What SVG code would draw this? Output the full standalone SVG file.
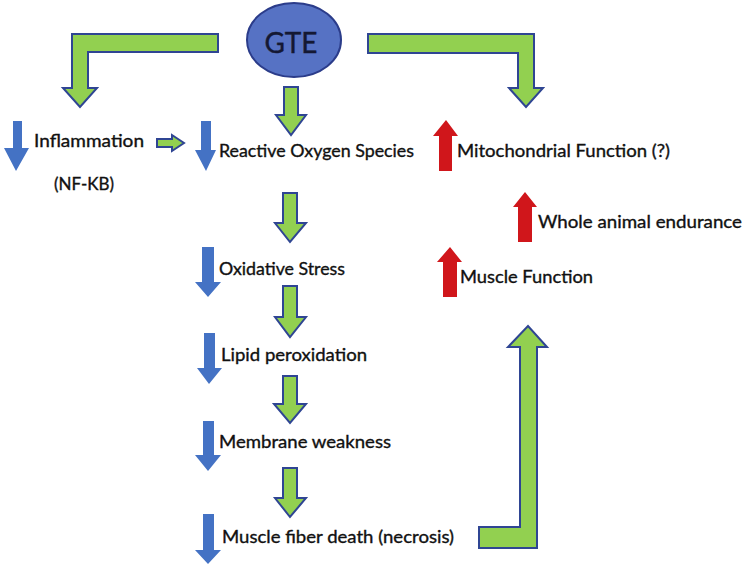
<svg xmlns="http://www.w3.org/2000/svg" width="750" height="570" viewBox="0 0 750 570">
<style>
.g{fill:#92d050;stroke:#2f4593;stroke-width:2;stroke-linejoin:miter}
.b{fill:#4472c4}
.r{fill:#d0161b}
.t{font-family:Lato,"Open Sans","Liberation Sans",sans-serif;font-size:17.5px;fill:#111;stroke:#111;stroke-width:0.35}
</style>
<rect width="750" height="570" fill="#fff"/>
<g id="connectors">
<polygon class="g" points="218,34 72,34 72,88 63,88 80,107 97,88 88,88 88,52 218,52"/>
<polygon class="g" points="368,34 534,34 534,88 543,88 526,107 509,88 518,88 518,53 368,53"/>
<polygon class="g" points="284,87 298,87 298,115 306,115 291,135 276,115 284,115"/>
<polygon class="g" points="157,139 172,139 172,135 184,143 172,151 172,147 157,147"/>
<polygon class="g" points="283,193 297,193 297,223 306,223 290,242 275,223 283,223"/>
<polygon class="g" points="283,286 297,286 297,317 306,317 290,337 275,317 283,317"/>
<polygon class="g" points="283,376 297,376 297,404 306,404 290,423 274,404 283,404"/>
<polygon class="g" points="283,468 297,468 297,498 306,498 290,517 275,498 283,498"/>
<polygon class="g" points="479,527 520,527 520,347 508,347 528,326 547,347 537,347 537,548 479,548"/>
</g>
<g id="gte">
<ellipse cx="294" cy="40" rx="47" ry="37" fill="#5672c4" stroke="#2b3c8a" stroke-width="2"/>
<text x="291" y="53" text-anchor="middle" font-family="Lato,'Open Sans','Liberation Sans',sans-serif" font-size="28" fill="#141833" stroke="#141833" stroke-width="0.4">GTE</text>
</g>
<g id="inflammation">
<polygon class="b" points="13,121 22,121 22,148 29,148 16,171 4,148 13,148"/>
<text class="t" x="34" y="147" textLength="110" lengthAdjust="spacingAndGlyphs">Inflammation</text>
<text class="t" x="54" y="190" textLength="60" lengthAdjust="spacingAndGlyphs">(NF-KB)</text>
</g>
<g id="ros">
<polygon class="b" points="201,121 211,121 211,150 216,150 206,171 195,150 201,150"/>
<text class="t" x="219" y="157" textLength="195" lengthAdjust="spacingAndGlyphs">Reactive Oxygen Species</text>
</g>
<g id="mito">
<polygon class="r" points="446,120 458,136 452,136 452,171 439,171 439,136 433,136"/>
<text class="t" x="457" y="157" textLength="213" lengthAdjust="spacingAndGlyphs">Mitochondrial Function (?)</text>
</g>
<g id="endurance">
<polygon class="r" points="525,192 537,207 532,207 532,242 518,242 518,207 513,207"/>
<text class="t" x="538" y="228" textLength="204" lengthAdjust="spacingAndGlyphs">Whole animal endurance</text>
</g>
<g id="musclefunction">
<polygon class="r" points="450,247 462,262 457,262 457,297 443,297 443,262 437,262"/>
<text class="t" x="460" y="283" textLength="133" lengthAdjust="spacingAndGlyphs">Muscle Function</text>
</g>
<g id="oxidative">
<polygon class="b" points="202,247 214,247 214,282 221,282 208,297 195,282 202,282"/>
<text class="t" x="219" y="275" textLength="126" lengthAdjust="spacingAndGlyphs">Oxidative Stress</text>
</g>
<g id="lipid">
<polygon class="b" points="204,333 215,333 215,368 222,368 209,384 197,368 204,368"/>
<text class="t" x="221" y="361" textLength="146" lengthAdjust="spacingAndGlyphs">Lipid peroxidation</text>
</g>
<g id="membrane">
<polygon class="b" points="203,421 214,421 214,455 221,455 208,471 195,455 203,455"/>
<text class="t" x="219" y="448" textLength="172" lengthAdjust="spacingAndGlyphs">Membrane weakness</text>
</g>
<g id="necrosis">
<polygon class="b" points="203,514 214,514 214,550 221,550 208,564 195,550 203,550"/>
<text class="t" x="222" y="543" textLength="232" lengthAdjust="spacingAndGlyphs">Muscle fiber death (necrosis)</text>
</g>
</svg>
